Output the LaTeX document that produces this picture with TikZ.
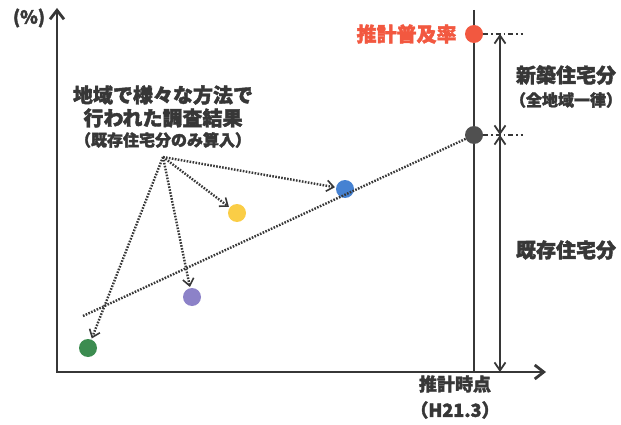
\documentclass[tikz,border=0pt]{standalone}
\usepackage{fontspec}
\setmainfont{Noto Sans CJK JP}[BoldFeatures={FakeBold=2}]
\usetikzlibrary{arrows.meta,positioning}
\definecolor{ink}{RGB}{55,55,55}
\definecolor{dotred}{RGB}{242,88,64}
\definecolor{dotgray}{RGB}{80,80,80}
\definecolor{dotblue}{RGB}{70,130,210}
\definecolor{dotyellow}{RGB}{250,205,70}
\definecolor{dotpurple}{RGB}{140,130,200}
\definecolor{dotgreen}{RGB}{60,140,80}
\tikzset{
  dot/.style={circle, fill=#1, minimum size=18pt, inner sep=0pt},
  lbl/.style={font=\bfseries\fontsize{20}{24}\selectfont, text=ink, inner sep=1pt},
  sublbl/.style={font=\bfseries\fontsize{16}{19}\selectfont, text=ink, inner sep=1pt},
  axis/.style={draw=ink, line width=2.8pt},
  dots/.style={draw=ink, line width=2.4pt, dash pattern=on 1.6pt off 1.4pt},
  dotarrow/.style={dots, -{Straight Barb[length=7pt,width=11pt,line width=1.6pt]}, shorten >=1pt},
  guide/.style={draw=ink, line width=1.2pt, dash pattern=on 5pt off 3pt on 1.5pt off 3pt},
  span/.style={draw=ink, line width=1.8pt, {Straight Barb[length=8pt,width=11pt]}-{Straight Barb[length=8pt,width=11pt]}}
}
\begin{document}
\begin{tikzpicture}[x=1pt,y=-1pt]
  \useasboundingbox (0,0) rectangle (621,425);
  % axes
  \coordinate (O) at (57,372);
  \coordinate (ytip) at (57,8);
  \coordinate (xtip) at (546,372);
  \draw[axis, {Straight Barb[length=9pt,width=14pt]}-{Straight Barb[length=9pt,width=14pt]}] (ytip) -- (O) -- (xtip);
  \node[lbl, font=\bfseries\fontsize{18}{22}\selectfont] (pct) at (29,18) {(\%)};
  % estimation time line
  \coordinate (vtop) at (474,10);
  \coordinate (vbot) at (474,372);
  \draw[draw=ink, line width=2.4pt] (vtop) -- (vbot);
  % points
  \node[dot=dotred] (red) at (474,34) {};
  \node[dot=dotgray] (gray) at (474,135) {};
  \node[dot=dotblue] (blue) at (345,189) {};
  \node[dot=dotyellow] (yellow) at (237,213) {};
  \node[dot=dotpurple] (purple) at (192,297) {};
  \node[dot=dotgreen] (green) at (88,348) {};
  % trend of existing houses
  \coordinate (trend) at (83,316);
  \draw[dots] (trend) -- (gray);
  % survey results
  \node[lbl] (survey1) at (163,95) {地域で様々な方法で};
  \node[lbl] (survey2) at (163,118) {行われた調査結果};
  \node[sublbl] (survey3) at (163,140) {（既存住宅分のみ算入）};
  \coordinate (src) at (163,157);
  \foreach \p in {blue,yellow,purple,green}
    \draw[dotarrow] (src) -- (\p);
  % guides and spans
  \coordinate (gtop) at (523,34);
  \coordinate (gmid) at (523,135);
  \draw[guide] (red) -- (gtop);
  \draw[guide] (gray) -- (gmid);
  \coordinate (stop) at (500,34);
  \coordinate (smid) at (500,135);
  \coordinate (sbot) at (500,372);
  \draw[span] (stop) -- (smid);
  \draw[span] (smid) -- (sbot);
  % labels
  \node[lbl, text=dotred, left=7pt of red] (rate) {推計普及率};
  \node[lbl] (new) at (566,75) {新築住宅分};
  \node[sublbl] (newsub) at (566,100) {（全地域一律）};
  \node[lbl] (exist) at (566,250) {既存住宅分};
  \node[lbl, font=\bfseries\fontsize{18}{22}\selectfont] (when) at (455,384) {推計時点};
  \node[lbl, font=\bfseries\fontsize{18}{22}\selectfont] (whenyr) at (455,410) {（H21.3）};
\end{tikzpicture}
\end{document}
